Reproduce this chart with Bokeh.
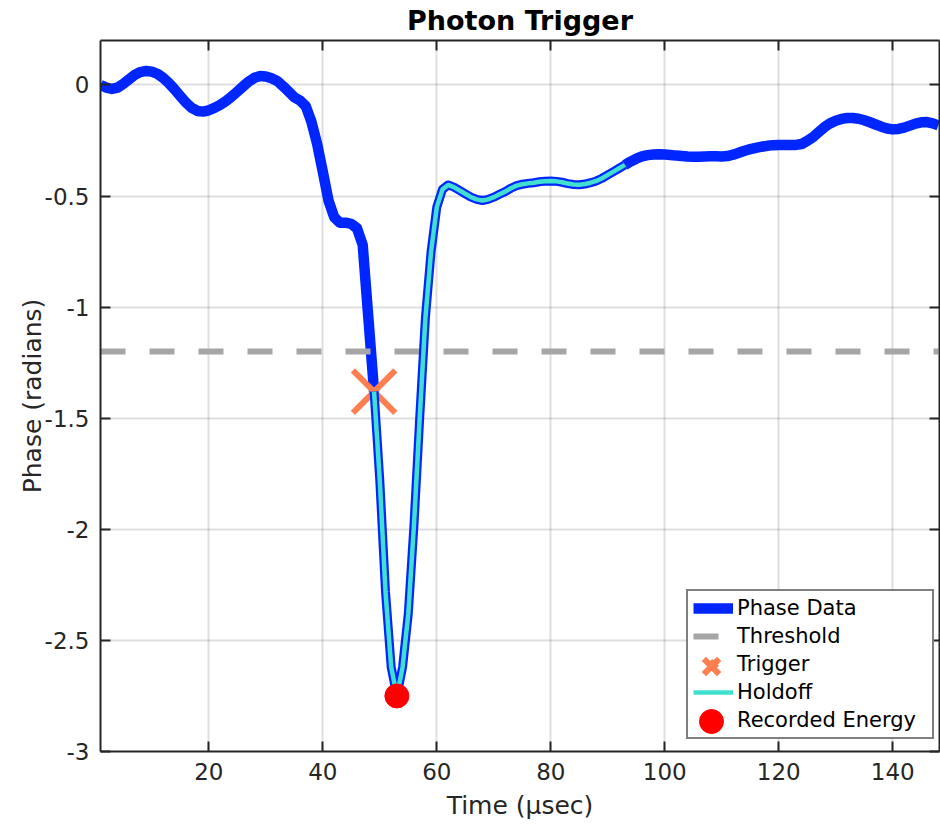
from bokeh.plotting import figure
from bokeh.models import LinearAxis, FixedTicker, Range1d, Legend, LegendItem
from bokeh.embed import file_html
from bokeh.resources import INLINE

# ---- data ----
time_us = list(range(1, 149))
phase = [
    0.0, -0.012, -0.018, -0.012, 0.005, 0.025, 0.045, 0.058, 0.063, 0.06,
    0.05, 0.032, 0.008, -0.02, -0.05, -0.08, -0.103, -0.117, -0.12, -0.114,
    -0.103, -0.09, -0.073, -0.053, -0.03, -0.007, 0.015, 0.032, 0.04, 0.038,
    0.03, 0.018, -0.005, -0.03, -0.055, -0.07, -0.095, -0.165, -0.265, -0.39,
    -0.52, -0.595, -0.62, -0.62, -0.625, -0.645, -0.72, -1.05, -1.38, -1.78,
    -2.28, -2.62, -2.75, -2.62, -2.38, -1.98, -1.5, -1.05, -0.75, -0.55,
    -0.47, -0.45, -0.46, -0.475, -0.49, -0.505, -0.515, -0.52, -0.515, -0.505,
    -0.492, -0.48, -0.465, -0.453, -0.447, -0.443, -0.44, -0.436, -0.433, -0.432,
    -0.434, -0.438, -0.444, -0.448, -0.449, -0.446, -0.44, -0.432, -0.42, -0.405,
    -0.39, -0.375, -0.36, -0.345, -0.332, -0.322, -0.316, -0.313, -0.312, -0.313,
    -0.315, -0.318, -0.32, -0.322, -0.323, -0.323, -0.322, -0.321, -0.321, -0.322,
    -0.32, -0.314, -0.305, -0.296, -0.289, -0.283, -0.278, -0.274, -0.271, -0.27,
    -0.27, -0.27, -0.27, -0.266, -0.252, -0.235, -0.212, -0.19, -0.173, -0.161,
    -0.153, -0.149, -0.149, -0.152, -0.159, -0.168, -0.178, -0.188, -0.196, -0.2,
    -0.198, -0.192, -0.183, -0.174, -0.168, -0.167, -0.173, -0.182,
]
threshold = -1.2
trigger_time = 49
holdoff_end_time = 93
energy_time = 53

x_ticks = [20, 40, 60, 80, 100, 120, 140]
y_ticks = [-3, -2.5, -2, -1.5, -1, -0.5, 0]
y_tick_labels = ["-3", "-2.5", "-2", "-1.5", "-1", "-0.5", "0"]

# derived
i_trig = time_us.index(trigger_time)
i_hold_end = time_us.index(holdoff_end_time)
i_energy = time_us.index(energy_time)
trigger_phase = phase[i_trig]
energy_phase = phase[i_energy]

pre_t, pre_p = time_us[: i_trig + 1], phase[: i_trig + 1]
hold_t, hold_p = time_us[i_trig: i_hold_end + 1], phase[i_trig: i_hold_end + 1]
post_t, post_p = time_us[i_hold_end:], phase[i_hold_end:]

# ---- styling ----
FONT = "DejaVu Sans"
TXT = "#262626"
BLUE = "#0026ff"
CYAN = "#40e0d0"
GRAY = "#a6a6a6"
ORANGE = "#ff7f50"
RED = "#ff0000"

p = figure(
    width=940, height=824,
    x_range=Range1d(1, 148.2), y_range=Range1d(-3, 0.2),
    output_backend="svg", toolbar_location=None,
    min_border_left=100, min_border_right=1, min_border_top=40, min_border_bottom=73,
    x_axis_label="Time (\u03bcsec)", y_axis_label="Phase (radians)",
)
p.background_fill_color = "white"
p.border_fill_color = "white"
p.outline_line_color = None

p.title.text = "Photon Trigger"
p.title.text_font = FONT
p.title.text_font_size = "27px"
p.title.text_font_style = "bold"
p.title.align = "center"
p.title.vertical_align = "top"
p.title.text_color = "black"
p.title.standoff = 6

def style_axis(ax, show_labels=True):
    ax.axis_line_color = TXT
    ax.axis_line_width = 2
    ax.major_tick_line_color = TXT
    ax.major_tick_line_width = 2
    ax.major_tick_in = 10
    ax.major_tick_out = 0
    ax.minor_tick_line_color = None
    ax.major_label_text_font = FONT
    ax.major_label_text_color = TXT
    ax.axis_label_text_font = FONT
    ax.axis_label_text_color = TXT
    ax.axis_label_text_font_style = "normal"
    ax.axis_label_text_font_size = "25px"
    if show_labels:
        ax.major_label_text_font_size = "23px"
        ax.major_label_standoff = 11
    else:
        ax.major_label_text_font_size = "0px"
        ax.major_label_standoff = 0

xa = p.xaxis[0]
ya = p.yaxis[0]
xa.ticker = FixedTicker(ticks=x_ticks)
ya.ticker = FixedTicker(ticks=y_ticks)
ya.major_label_overrides = {t: s for t, s in zip(y_ticks, y_tick_labels)}
style_axis(xa)
style_axis(ya)
xa.axis_label_standoff = 8
ya.axis_label_standoff = -5

top = LinearAxis(ticker=FixedTicker(ticks=x_ticks),
                 major_label_overrides={t: "" for t in x_ticks})
style_axis(top, show_labels=False)
p.add_layout(top, "above")
right = LinearAxis(ticker=FixedTicker(ticks=y_ticks),
                   major_label_overrides={t: "" for t in y_ticks})
style_axis(right, show_labels=False)
p.add_layout(right, "right")

p.xgrid.ticker = FixedTicker(ticks=x_ticks)
p.ygrid.ticker = FixedTicker(ticks=y_ticks)
for g in (p.xgrid[0], p.ygrid[0]):
    g.grid_line_color = "black"
    g.grid_line_alpha = 0.13
    g.grid_line_width = 2

# ---- glyphs ----
r_phase = p.line(pre_t, pre_p, line_color=BLUE, line_width=10.5, line_join="round")
p.line(post_t, post_p, line_color=BLUE, line_width=10.5, line_join="round")

r_thr = p.line([time_us[0], time_us[-1]], [threshold, threshold], line_color=GRAY,
               line_width=6, line_dash="25 24")

r_trig = p.scatter([trigger_time], [trigger_phase], marker="x", size=60,
                   line_color=ORANGE, line_width=6)

p.line(hold_t, hold_p, line_color=BLUE, line_width=9, line_join="round")
r_hold = p.line(hold_t, hold_p, line_color=CYAN, line_width=4.5, line_join="round")

r_energy = p.scatter([energy_time], [energy_phase], marker="circle", size=24,
                     fill_color=RED, line_color=RED)

# ---- legend ----
legend = Legend(items=[
    LegendItem(label="Phase Data", renderers=[r_phase]),
    LegendItem(label="Threshold", renderers=[r_thr]),
    LegendItem(label="Trigger", renderers=[r_trig]),
    LegendItem(label="Holdoff", renderers=[r_hold]),
    LegendItem(label="Recorded Energy", renderers=[r_energy]),
])
legend.location = (586, 12)
legend.margin = 0
legend.padding = 5
legend.spacing = 4
legend.glyph_width = 40
legend.glyph_height = 24
legend.label_height = 24
legend.label_width = 190
legend.label_standoff = 4
legend.label_text_font = FONT
legend.label_text_font_size = "21px"
legend.label_text_color = "black"
legend.border_line_color = "black"
legend.border_line_width = 2
legend.background_fill_color = "white"
legend.background_fill_alpha = 1
p.add_layout(legend)

# larger legend markers (overlaid on the main legend's marker slots)
def marker_legend(renderer, box, loc):
    lg = Legend(items=[LegendItem(label=" ", renderers=[renderer])])
    lg.location = loc
    lg.margin = 0
    lg.padding = 0
    lg.spacing = 0
    lg.glyph_width = box
    lg.glyph_height = box
    lg.label_height = box
    lg.label_width = 1
    lg.label_standoff = 0
    lg.label_text_alpha = 0
    lg.label_text_font_size = "10px"
    lg.border_line_color = None
    lg.background_fill_alpha = 0
    return lg

p.add_layout(marker_legend(r_trig, 54, (584, 58)))
p.add_layout(marker_legend(r_energy, 60, (581, 0)))

open("out.html", "w").write(file_html(p, INLINE))
